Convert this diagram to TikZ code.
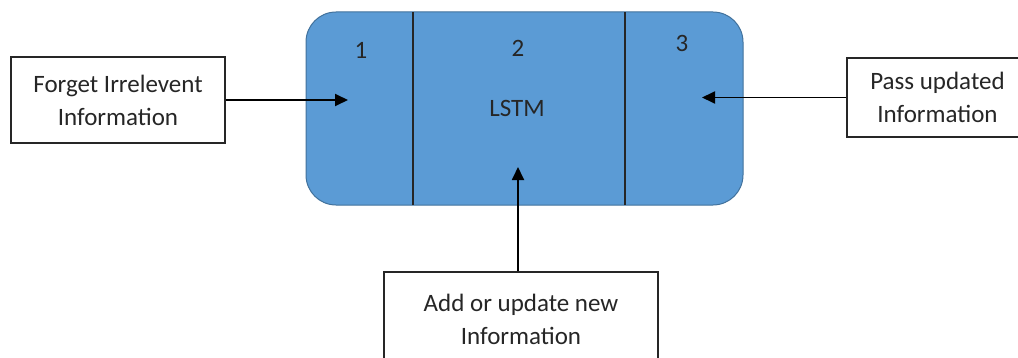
\documentclass[tikz,border=0pt]{standalone}
\usepackage{fontspec}
\setmainfont{Carlito}
\usetikzlibrary{arrows.meta,positioning}
\definecolor{CellBlue}{RGB}{91,155,213}
\definecolor{CellEdge}{RGB}{65,113,156}
\tikzset{
  infobox/.style={draw=black!85, line width=1.2pt, fill=white, align=center,
    font=\fontsize{25}{33}\selectfont, text=black!85, inner sep=0pt},
  cellbox/.style={draw=CellEdge, line width=1pt, fill=CellBlue,
    rounded corners=30pt, inner sep=0pt},
  gatearrow/.style={-{Triangle[length=13pt,width=12pt]}, line width=1.8pt, draw=black},
  divider/.style={line width=1.6pt, draw=black!85},
  celllabel/.style={font=\fontsize{25}{33}\selectfont, text=black!85}
}

\begin{document}
\begin{tikzpicture}[x=1pt, y=1pt]
  \clip (0,0) rectangle (1018,357);
  % the cell and its three parts
  \node[cellbox, minimum width=437pt, minimum height=193pt] (lstm) at (524.5,248.5) {};
  \draw[divider] (413,152) -- (413,345);
  \draw[divider] (625,152) -- (625,345);
  \node[celllabel] (one) at (361,307) {1};
  \node[celllabel] (two) at (518,309) {2};
  \node[celllabel] (three) at (682,314) {3};
  \node[celllabel] (name) at (517,249) {LSTM};

  % the three gates
  \node[infobox, minimum width=214pt, minimum height=86pt] (forget) at (118,257) {Forget Irrelevent\\Information};
  \node[infobox, minimum width=181pt, minimum height=79pt] (pass) at (937.5,259.5) {Pass updated\\Information};
  \node[infobox, minimum width=274pt, minimum height=94pt] (add) at (521,38) {Add or update new\\Information};

  \coordinate (forgetin) at (348,257);
  \coordinate (passin) at (702,259.5);
  \coordinate (addin) at (518,190);
  \draw[gatearrow] (forget.east) -- (forgetin);
  \draw[gatearrow] (pass.west) -- (passin);
  \draw[gatearrow] (add.north -| addin) -- (addin);
\end{tikzpicture}
\end{document}
